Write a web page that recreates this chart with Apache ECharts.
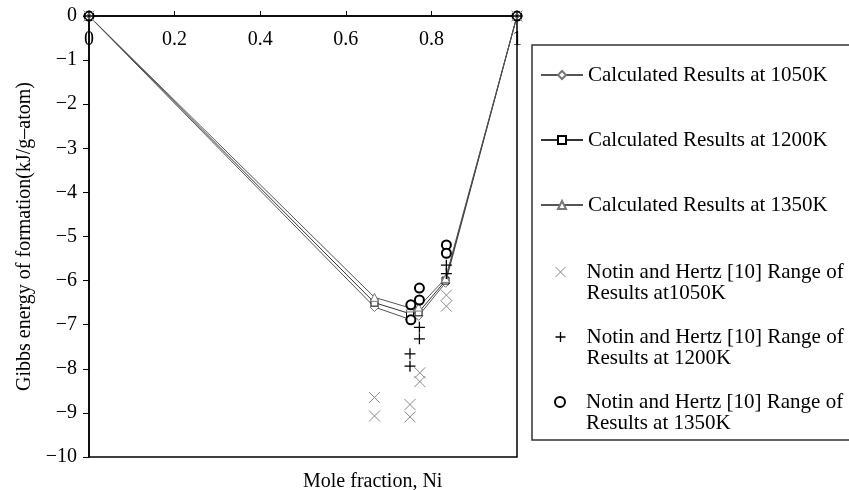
<!DOCTYPE html>
<html><head><meta charset="utf-8">
<script src="https://cdn.jsdelivr.net/npm/echarts@6/dist/echarts.min.js"></script>
<style>html,body{margin:0;padding:0;background:#fff}#c{width:849px;height:490px}</style>
</head><body><div id="c"></div>
<script>
// ---- data ----
const xTicks = [0, 0.2, 0.4, 0.6, 0.8, 1];
const yTicks = [0, -1, -2, -3, -4, -5, -6, -7, -8, -9, -10];

const calcX = [0, 0.667, 0.75, 0.77, 0.833, 1];
const calc1050 = [0, -6.6, -6.88, -6.8, -6.05, 0];
const calc1200 = [0, -6.5, -6.75, -6.72, -6.0, 0];
const calc1350 = [0, -6.38, -6.62, -6.6, -5.95, 0];

const exp1050X = [0, 0.667, 0.667, 0.75, 0.75, 0.773, 0.773, 0.835, 0.835, 1];
const exp1050Y = [0, -8.65, -9.07, -8.81, -9.09, -8.09, -8.29, -6.33, -6.58, 0];
const exp1200X = [0, 0.75, 0.75, 0.772, 0.772, 0.835, 0.835, 1];
const exp1200Y = [0, -7.66, -7.94, -7.06, -7.32, -5.65, -5.84, 0];
const exp1350X = [0, 0.752, 0.752, 0.772, 0.772, 0.835, 0.835, 1];
const exp1350Y = [0, -6.55, -6.89, -6.17, -6.44, -5.19, -5.38, 0];

const names = [
  'Calculated Results at 1050K',
  'Calculated Results at 1200K',
  'Calculated Results at 1350K',
  'Notin and Hertz [10] Range of\nResults at1050K',
  'Notin and Hertz [10] Range of\nResults at 1200K',
  'Notin and Hertz [10] Range of\nResults at 1350K'
];

const zip = (xs, ys) => xs.map((x, i) => [x, ys[i]]);
const FONT = 'Liberation Serif';
const X_PATH = 'path://M0,0L10,10M10,0L0,10';
const PLUS_PATH = 'path://M5,0L5,10M0,5L10,5';

const chart = echarts.init(document.getElementById('c'));

function lineSeries(name, ys, symbol, size, col, mcol) {
  return {
    name, type: 'line', data: zip(calcX, ys), symbol, symbolSize: size,
    lineStyle: { color: col, width: 1 },
    itemStyle: { color: '#fff', borderColor: mcol, borderWidth: 1 },
    z: 3, animation: false
  };
}
function scatterSeries(name, xs, ys, symbol, size, fill, stroke, bw, z) {
  return {
    name, type: 'scatter', data: zip(xs, ys), symbol, symbolSize: size,
    itemStyle: { color: fill, borderColor: stroke, borderWidth: bw, opacity: 1 },
    z, animation: false
  };
}
function legendAt(i, left, top, icon, style, multi) {
  const lg = {
    data: [icon ? { name: names[i], icon } : names[i]],
    left, top, padding: 0, itemWidth: 42, itemHeight: 10,
    selectedMode: false,
    textStyle: { fontFamily: FONT, fontSize: 21, color: '#000', lineHeight: 21 }
  };
  if (multi) lg.formatter = n => '\n' + n;
  if (style) lg.itemStyle = style;
  return lg;
}

chart.setOption({
  animation: false,
  backgroundColor: '#fff',
  grid: { left: 89, top: 16, right: 332, bottom: 33, show: true, borderColor: '#000', borderWidth: 1.5, backgroundColor: 'transparent' },
  xAxis: {
    type: 'value', position: 'top', min: 0, max: 1, interval: 0.2,
    axisLine: { onZero: false, lineStyle: { color: '#000', width: 1.5 } },
    axisTick: { show: true, inside: false, length: 5, lineStyle: { color: '#000', width: 1 } },
    axisLabel: { inside: true, margin: 14, color: '#000', fontFamily: FONT, fontSize: 20,
      formatter: v => String(v) },
    splitLine: { show: false }
  },
  yAxis: {
    type: 'value', min: -10, max: 0, interval: 1,
    name: 'Gibbs energy of formation(kJ/g\u2013atom)', nameLocation: 'middle', nameGap: 51,
    nameRotate: 90,
    nameTextStyle: { fontFamily: FONT, fontSize: 20, color: '#000' },
    axisLine: { onZero: false, lineStyle: { color: '#000', width: 1.5 } },
    axisTick: { show: true, length: 6, lineStyle: { color: '#000', width: 1 } },
    axisLabel: { margin: 12, color: '#000', fontFamily: FONT, fontSize: 20,
      formatter: v => (v < 0 ? '\u2212' + (-v) : String(v)) },
    splitLine: { show: false }
  },
  legend: [
    legendAt(0, 540, 64.5),
    legendAt(1, 540, 129.5),
    legendAt(2, 540, 194.5),
    legendAt(3, 553, 240.5, X_PATH, { color: 'none', borderColor: '#888', borderWidth: 1 }, true),
    legendAt(4, 553, 305.5, PLUS_PATH, { color: 'none', borderColor: '#000', borderWidth: 1.3 }, true),
    legendAt(5, 554, 370.5, 'circle', { color: '#fff', borderColor: '#000', borderWidth: 2 }, true)
  ],
  graphic: [
    { type: 'rect', shape: { x: 532, y: 45, width: 340, height: 395 },
      style: { fill: 'none', stroke: '#333', lineWidth: 1.5 }, z: 0 },
    { type: 'text', left: 303, top: 472,
      style: { text: 'Mole fraction, Ni', fontFamily: FONT, fontSize: 20, fill: '#000', textAlign: 'center' } }
  ],
  series: [
    lineSeries(names[0], calc1050, 'diamond', 9, '#555', '#777'),
    lineSeries(names[1], calc1200, 'rect', 7, '#333', '#000'),
    lineSeries(names[2], calc1350, 'triangle', 8, '#555', '#777'),
    scatterSeries(names[5], exp1350X, exp1350Y, 'circle', 9, '#fff', '#000', 2, 4),
    scatterSeries(names[3], exp1050X, exp1050Y, X_PATH, 11, 'none', '#888', 1, 5),
    scatterSeries(names[4], exp1200X, exp1200Y, PLUS_PATH, 11, 'none', '#000', 1.3, 5)
  ]
});
</script></body></html>
